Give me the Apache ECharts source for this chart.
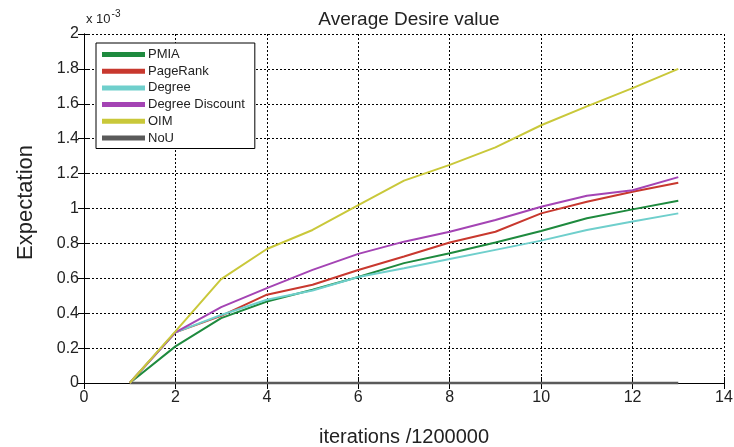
<!DOCTYPE html>
<html>
<head>
<meta charset="utf-8">
<script src="https://cdn.jsdelivr.net/npm/echarts@6/dist/echarts.min.js"></script>
<style>
  html, body { margin: 0; padding: 0; background: #fff; }
  #chart { width: 734px; height: 447px; }
</style>
</head>
<body>
<div id="chart"></div>
<script>
// Iteration index (units of 1,200,000 iterations)
const iterations = [1, 2, 3, 4, 5, 6, 7, 8, 9, 10, 11, 12, 13];

// Average desire value per method, in units of 1e-3
const pmia           = [0, 0.21, 0.372, 0.467, 0.534, 0.607, 0.687, 0.744, 0.805, 0.871, 0.944, 0.995, 1.045];
const pageRank       = [0, 0.29, 0.385, 0.506, 0.563, 0.648, 0.725, 0.805, 0.867, 0.972, 1.039, 1.096, 1.148];
const degree         = [0, 0.29, 0.39, 0.477, 0.53, 0.607, 0.658, 0.71, 0.763, 0.816, 0.877, 0.925, 0.972];
const degreeDiscount = [0, 0.29, 0.435, 0.544, 0.648, 0.74, 0.81, 0.867, 0.934, 1.01, 1.073, 1.105, 1.18];
const oim            = [0, 0.296, 0.595, 0.768, 0.877, 1.02, 1.16, 1.25, 1.35, 1.477, 1.585, 1.69, 1.8];
const noU            = [0, 0, 0, 0, 0, 0, 0, 0, 0, 0, 0, 0, 0];

const xTicks = [0, 2, 4, 6, 8, 10, 12, 14];
const yTicks = [0, 0.2, 0.4, 0.6, 0.8, 1, 1.2, 1.4, 1.6, 1.8, 2];

const names  = ['PMIA', 'PageRank', 'Degree', 'Degree Discount', 'OIM', 'NoU'];
const values = [pmia, pageRank, degree, degreeDiscount, oim, noU];
const colors = ['#1e8a3e', '#c8382e', '#6fcfcc', '#a444b4', '#c9c83a', '#5a5a5a'];

const FONT = 'Liberation Sans, Arial, sans-serif';

const pairs = arr => iterations.map((x, i) => [x, arr[i]]);

const gridLine = { show: true, lineStyle: { color: '#000', type: [2, 2], width: 1 } };
const axisLine = { show: true, lineStyle: { color: '#000', width: 1 } };
const tickIn   = { show: true, inside: true, length: 6, lineStyle: { color: '#000' } };

const chart = echarts.init(document.getElementById('chart'), null, { renderer: 'canvas' });

chart.setOption({
  backgroundColor: '#fff',
  animation: false,
  title: {
    text: 'Average Desire value',
    left: 404,
    textAlign: 'center',
    top: 5,
    textStyle: { fontFamily: FONT, fontSize: 19, fontWeight: 'normal', color: '#222' }
  },
  grid: { left: 84, right: 10, top: 34, bottom: 64, containLabel: false, outerBoundsMode: 'none' },
  legend: {
    orient: 'vertical',
    left: 96,
    top: 43,
    width: 156,
    padding: [5, 10, 4, 6],
    itemGap: 3.7,
    itemWidth: 43,
    itemHeight: 5,
    icon: 'rect',
    backgroundColor: '#fff',
    borderColor: '#000',
    borderWidth: 1,
    data: names,
    textStyle: { fontFamily: FONT, fontSize: 13, lineHeight: 13, color: '#222', padding: [0, 0, 0, -2] }
  },
  xAxis: [{
    type: 'value',
    min: 0, max: 14, interval: 2,
    name: 'iterations /1200000',
    nameLocation: 'middle',
    nameGap: 44,
    nameTextStyle: { fontFamily: FONT, fontSize: 20, color: '#222' },
    axisLine, axisTick: tickIn, splitLine: gridLine,
    axisLabel: {
      fontFamily: FONT, fontSize: 16, color: '#222', margin: 7,
      formatter: v => xTicks.includes(v) ? String(v) : ''
    }
  }, {
    type: 'value', position: 'top',
    min: 0, max: 14, interval: 2,
    axisLine, axisTick: tickIn, splitLine: { show: false }, axisLabel: { show: false }
  }],
  yAxis: [{
    type: 'value',
    min: 0, max: 2, interval: 0.2,
    name: '{a|x 10}{b|-3}',
    nameLocation: 'end',
    nameGap: 8,
    nameTextStyle: {
      align: 'left', padding: [0, 0, 0, 0],
      rich: {
        a: { fontFamily: FONT, fontSize: 13, color: '#222', padding: [6, 0, 0, 2] },
        b: { fontFamily: FONT, fontSize: 10, color: '#222', padding: [0, 0, 4, 1] }
      }
    },
    axisLine, axisTick: tickIn, splitLine: gridLine,
    axisLabel: {
      fontFamily: FONT, fontSize: 16, color: '#222', margin: 5,
      formatter: v => {
        const t = yTicks.find(k => Math.abs(k - v) < 1e-9);
        return t === undefined ? '' : String(Math.round(t * 10) / 10);
      }
    }
  }, {
    type: 'value', position: 'right',
    min: 0, max: 2, interval: 0.2,
    axisLine, axisTick: tickIn, splitLine: { show: false }, axisLabel: { show: false }
  }],
  graphic: [{
    type: 'text',
    left: 15,
    top: 145,
    rotation: Math.PI / 2,
    style: {
      text: 'Expectation',
      font: '22px ' + FONT,
      fill: '#222',
      textAlign: 'center',
      textVerticalAlign: 'middle'
    }
  }],
  series: names.map((n, i) => ({
    name: n,
    type: 'line',
    data: pairs(values[i]),
    showSymbol: false,
    symbol: 'none',
    clip: false,
    color: colors[i],
    lineStyle: { color: colors[i], width: i === 5 ? 2.5 : 2 },
    z: i === 5 ? 1 : 3
  }))
});
</script>
</body>
</html>
